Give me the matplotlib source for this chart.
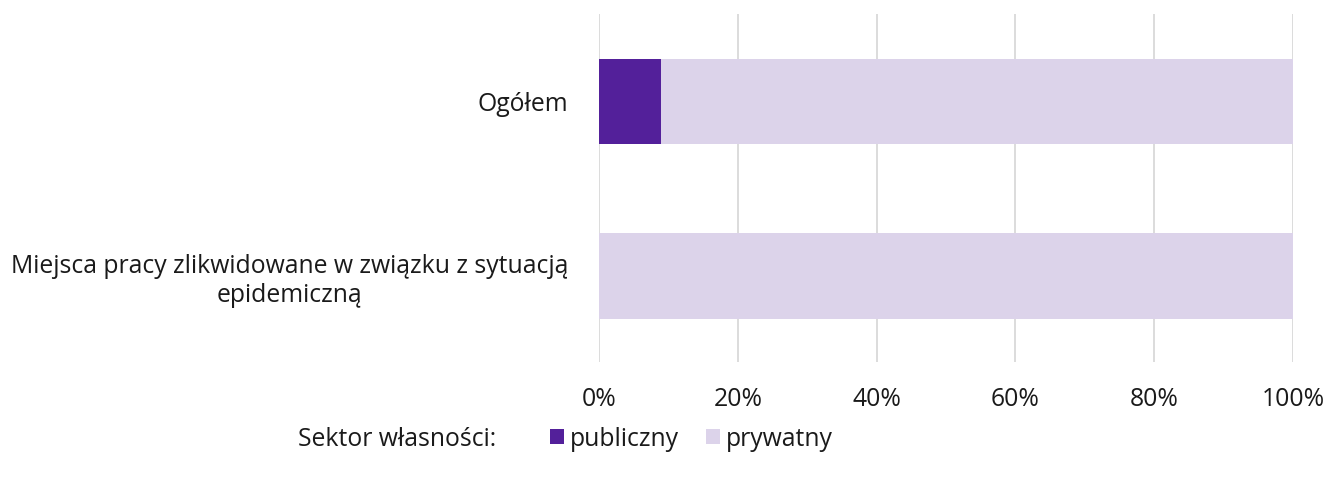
import matplotlib.pyplot as plt
import numpy as np

plt.rcParams['font.family'] = ['Open Sans', 'DejaVu Sans']

categories = ['Ogółem', 'Miejsca pracy zlikwidowane w związku z sytuacją\nepidemiczną']
publiczny = [8.9, 0.0]
prywatny = [91.1, 100.0]
series_labels = ['publiczny', 'prywatny']
colors = ['#53209a', '#dcd3ea']
fs = 17.8
txt = '#1a1a1a'

fig = plt.figure(figsize=(13.25, 4.78), dpi=100)
ax = fig.add_axes([599 / 1325, 1 - 362 / 478, 694 / 1325, 348 / 478])

y = np.arange(len(categories))
ax.barh(y, publiczny, height=0.49, color=colors[0], label=series_labels[0], zorder=3)
ax.barh(y, prywatny, left=publiczny, height=0.49, color=colors[1], label=series_labels[1], zorder=3)

ax.set_xlim(0, 100)
ax.set_ylim(1.49, -0.5)
ax.set_xticks(np.arange(0, 101, 20))
ax.set_xticklabels([f'{v}%' for v in range(0, 101, 20)])
ax.set_yticks(y)
ax.set_yticklabels(categories, multialignment='center')
ax.tick_params(axis='y', length=0, pad=22, labelsize=fs, colors=txt)
ax.tick_params(axis='x', length=0, pad=18, labelsize=fs, colors=txt)
ax.grid(axis='x', color='#d9d9d9', linewidth=1.3, zorder=0)
for s in ax.spines.values():
    s.set_visible(False)

fig.text(298 / 1325, 1 - 439 / 478, 'Sektor własności:', fontsize=fs, va='center', color=txt)
fig.legend(loc='center left', bbox_to_anchor=(528 / 1325, 1 - 439 / 478), ncol=2, frameon=False,
           fontsize=fs, handlelength=0.55, handleheight=0.55, handletextpad=0.25, columnspacing=1.1,
           labelcolor=txt)

fig.savefig('out.png', dpi=100)
